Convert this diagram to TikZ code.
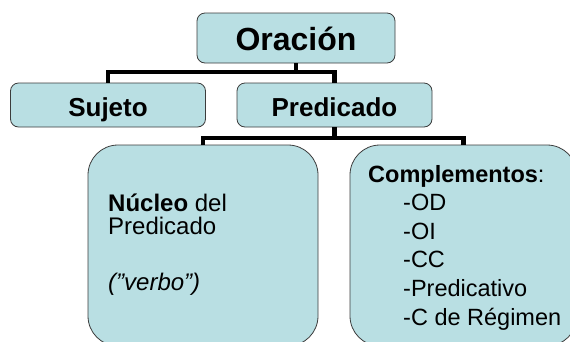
\documentclass[tikz,border=0pt]{standalone}
\usepackage{fontspec}
\setmainfont{Liberation Sans}

\definecolor{cajafondo}{RGB}{185,223,227}
\definecolor{cajaborde}{RGB}{60,60,60}

\tikzset{
  caja/.style={draw=cajaborde, fill=cajafondo, line width=0.8pt,
    rounded corners=8pt, inner sep=0pt, text depth=0pt},
  cajamedia/.style={caja, minimum width=195pt, minimum height=44pt,
    text height=22.5pt, font=\bfseries\fontsize{26}{31}\selectfont},
  cajagrande/.style={caja, rounded corners=30pt,
    minimum height=201pt},
  rama/.style={line width=4.5pt},
  texto/.style={inner sep=0pt, font=\fontsize{23.5}{28}\selectfont},
}

\begin{document}
\begin{tikzpicture}[x=1pt,y=-1pt]
  \useasboundingbox (0,0) rectangle (570,341);
  \clip (0,0) rectangle (570,341);

  % Top of the tree
  \node[caja, minimum width=198pt, minimum height=50pt, text height=24pt,
    font=\bfseries\fontsize{32}{38}\selectfont] (oracion) at (296,38) {Oración};

  % Second level
  \node[cajamedia] (sujeto) at (108,105) {Sujeto};
  \node[cajamedia] (predicado) at (334.5,105) {Predicado};

  \draw[rama] (oracion.south) -- ++(0,8.5) coordinate (ramaA);
  \draw[rama] (sujeto.north) |- (ramaA) -| (predicado.north);

  % Bottom level
  \node[cajagrande, minimum width=230pt] (nucleo) at (203,245.5) {};
  \node[cajagrande, minimum width=227pt] (complementos) at (463.5,245.5) {};

  \draw[rama] (predicado.south) -- ++(0,10.5) coordinate (ramaB);
  \draw[rama] (nucleo.north) |- (ramaB) -| (complementos.north);

  % Text of the left box
  \node[texto, anchor=base west, font=\fontsize{24}{28}\selectfont] (nucleo1) at (108,211) {\textbf{Núcleo} del};
  \node[texto, anchor=base west, font=\fontsize{24}{28}\selectfont] (nucleo2) at (108,234.5) {Predicado};
  \node[texto, anchor=base west, font=\fontsize{24}{28}\selectfont] (nucleo3) at (108,290) {\itshape(”verbo”)};

  % Text of the right box
  \node[texto, anchor=base west] (comp0) at (368,182) {\textbf{Complementos}:};
  \foreach \t [count=\i] in {-OD,-OI,-CC,-Predicativo,-C de Régimen}
    \node[texto, anchor=base west] (comp\i) at (403,182+28.6*\i) {\t};
\end{tikzpicture}
\end{document}
